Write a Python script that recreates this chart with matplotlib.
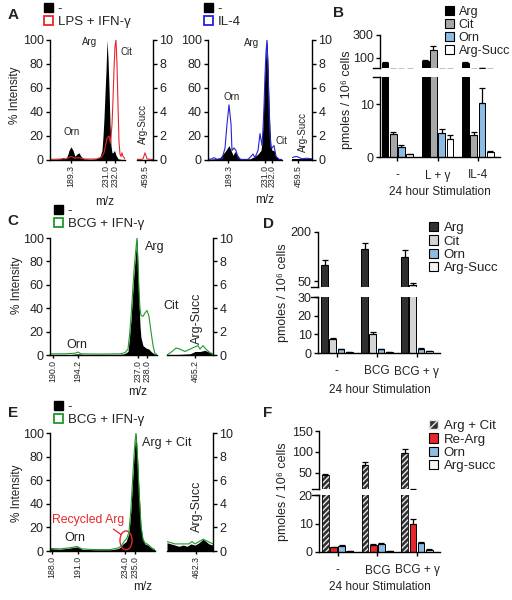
import matplotlib
matplotlib.use("Agg")
import matplotlib.pyplot as plt
from matplotlib.patches import Patch, Ellipse

# ---------------- data ----------------
# spectra: x is position along each broken m/z segment (0-100), y is % intensity
# panel A, LPS + IFN-g
a1_black_x = [0, 6.7, 13.3, 17.3, 21.3, 24, 25.3, 28, 30.7, 33.3, 36, 38.7, 41.3, 45.3, 53.3, 61.3, 66.7, 69.3, 70.7,
              72, 73.3, 74.7, 76, 77.3, 78.7, 80, 81.3, 82.7, 84, 86, 88, 90.7, 94.7, 100]
a1_black_y = [0.5, 0.5, 1, 2, 1, 5, 8, 11, 8, 3, 5, 6, 3, 1, 0.5, 1, 3, 8, 20, 35, 55, 75, 100, 85, 60, 30, 12, 6, 6,
              8, 4, 1, 0.5, 0.3]
a1_red_x = [0, 13.3, 21.3, 28, 33.3, 38.7, 45.3, 61.3, 68, 72, 76, 78.7, 80.7, 82.7, 84, 85.3, 86.7, 88, 89.3, 90.7,
            92, 93.3, 94.7, 96, 97.3, 100]
a1_red_y = [0.5, 0.8, 1, 3, 1.5, 2, 0.8, 0.8, 2, 6, 18, 20, 14, 30, 50, 75, 95, 100, 80, 45, 15, 5, 3, 6, 3, 1]
a1_side_x = [0, 25, 37.5, 50, 62.5, 81, 100]
a1_side_black = [0.02, 0.02, 0.02, 0.03, 0.02, 0.02, 0.02]
a1_side_red = [0.05, 0.05, 0.1, 0.6, 0.1, 0.05, 0.05]

# panel A, IL-4
a2_black_x = [0, 9.5, 16.2, 23, 28.4, 31.1, 33.8, 36.5, 39.2, 43.2, 56.8, 63.5, 67.6, 71.6, 73, 74.3, 75.7, 77, 78.4,
              79.7, 81.1, 82.4, 83.8, 85.1, 86.5, 89.2, 91.9, 95.9, 100]
a2_black_y = [0.5, 1, 2, 7, 12, 8, 4, 7, 5, 1, 1, 3, 5, 8, 15, 30, 55, 75, 90, 100, 80, 50, 25, 12, 8, 8, 3, 1, 0.5]
a2_blue_x = [0, 5.4, 8.1, 12.2, 18.9, 23, 25.7, 28.4, 31.1, 32.4, 35.1, 37.8, 40.5, 44.6, 54.1, 58.1, 60.8, 63.5, 67.6,
             70.3, 73, 74.3, 75.7, 77, 78.4, 79.7, 81.1, 82.4, 83.8, 85.1, 86.5, 89.2, 91.9, 95.9, 100]
a2_blue_y = [0.5, 1, 2, 0.5, 1, 10, 30, 46, 30, 8, 10, 8, 2, 0.5, 0.5, 3, 5, 2, 8, 22, 12, 25, 45, 70, 90, 100, 75,
             45, 20, 10, 10, 12, 3, 0.5, 0.5]
a2_side_x = [0, 20, 30, 50, 70, 100]
a2_side_black = [0.05, 0.05, 0.05, 0.05, 0.05, 0.05]
a2_side_blue = [0.2, 0.3, 0.25, 0.1, 0.15, 0.1]

# panel C, BCG + IFN-g
c_black_x = [0, 18.7, 26.2, 32.7, 63.6, 69.2, 72.9, 74.3, 75.7, 77.1, 78.5, 79.9, 81.3, 82.2, 83.2, 84.1, 85, 86.9,
             89.7, 92.5, 94.4, 97.2, 100]
c_black_y = [0.3, 0.3, 1, 0.3, 0.3, 1, 3, 15, 30, 50, 70, 85, 100, 75, 45, 25, 15, 8, 6, 5, 3, 1, 0.3]
c_green_x = [0, 14, 23.4, 26.2, 29, 46.7, 65.4, 70.1, 72.9, 74.3, 75.7, 77.1, 78.5, 79.9, 81.3, 82.2, 83.2, 84.1, 85,
             86.9, 88.8, 90.7, 92.5, 94.4, 96.3, 98.1, 100]
c_green_y = [1, 1, 1.5, 2.5, 1, 0.8, 1, 2, 5, 17, 32, 52, 72, 87, 100, 80, 55, 40, 34, 33, 36, 38, 33, 20, 8, 1, 0.5]
c_side_black_x = [0, 28, 50, 60.9, 71.7, 82.6, 93.5, 100]
c_side_black_y = [0, 0.05, 0.1, 0.3, 0.3, 0.4, 0.2, 0]
c_side_green_x = [0, 10.9, 19.6, 28.3, 39.1, 50, 60.9, 67.4, 71.7, 78.3, 84.8, 93.5, 100]
c_side_green_y = [0, 0.3, 0.6, 0.5, 0.3, 0.5, 0.7, 0.8, 0.5, 0.8, 0.5, 0.2, 0.1]

# panel E, BCG + IFN-g (labelled)
e_black_x = [0, 9.5, 19, 25.7, 30.5, 42.9, 57.1, 64.8, 66.7, 69.5, 72.4, 75.2, 77.1, 79, 80, 81, 81.9, 83.3, 84.8,
             86.7, 88.6, 90.5, 93.3, 97.1, 100]
e_black_y = [2, 1.5, 2.5, 3.5, 1.5, 1, 1, 2, 3, 6, 8, 15, 35, 65, 80, 92, 100, 80, 50, 20, 9, 6, 5, 2, 1]
e_green_x = [0, 9.5, 19, 25.7, 30.5, 42.9, 57.1, 64.8, 67.6, 70.5, 73.3, 75.2, 77.1, 79, 80, 81, 81.9, 83.3, 84.8,
             86.7, 88.6, 90.5, 93.3, 97.1, 100]
e_green_y = [2.2, 1.8, 2.7, 3.8, 1.8, 1.2, 1.2, 2.5, 4, 8, 11, 16, 36, 66, 81, 93, 100, 81, 51, 21, 10, 7, 5.5, 2.5,
             1.2]
e_side_black_x = [0, 8.7, 17.4, 26, 34.8, 43.5, 52, 60.9, 69.6, 78.3, 84.8, 91.3, 100]
e_side_black_y = [0.7, 0.6, 0.5, 0.4, 0.5, 0.4, 0.6, 0.5, 0.7, 1.0, 0.8, 0.6, 0.5]
e_side_green_x = [0, 17.4, 34.8, 47.8, 54.3, 60.9, 78.3, 100]
e_side_green_y = [0.8, 0.6, 0.6, 0.6, 0.8, 0.6, 1.0, 0.6]

# bar charts (pmoles / 10^6 cells)
b_groups = ["-", "L + \u03b3", "IL-4"]
b_labels = ["Arg", "Cit", "Orn", "Arg-Succ"]
b_arg = [60, 75, 60]
b_arg_err = [6, 6, 5]
b_cit = [4.4, 170, 4.2]
b_cit_err = [0.4, 30, 0.6]
b_orn = [1.9, 4.5, 10.2]
b_orn_err = [0.4, 0.7, 2.8]
b_succ = [0.5, 3.4, 0.9]
b_succ_err = [0.1, 0.8, 0.3]

d_groups = ["-", "BCG", "BCG + \u03b3"]
d_labels = ["Arg", "Cit", "Orn", "Arg-Succ"]
d_arg = [100, 148, 122]
d_arg_err = [14, 18, 22]
d_cit = [7.5, 10.2, 38]
d_cit_err = [0.8, 1.0, 6]
d_orn = [2.0, 2.0, 2.3]
d_orn_err = [0.3, 0.2, 0.4]
d_succ = [0.5, 0.5, 1.0]
d_succ_err = [0.1, 0.1, 0.2]

f_groups = ["-", "BCG", "BCG + \u03b3"]
f_labels = ["Arg + Cit", "Re-Arg", "Orn", "Arg-succ"]
f_argcit = [45, 69, 98]
f_argcit_err = [3, 6, 10]
f_rearg = [1.7, 2.5, 10.0]
f_rearg_err = [0.2, 0.3, 1.5]
f_orn = [2.0, 2.8, 3.3]
f_orn_err = [0.3, 0.3, 0.3]
f_succ = [0.3, 0.3, 0.8]
f_succ_err = [0.05, 0.05, 0.1]

# ---------------- figure ----------------
W, H = 512, 600
plt.rcParams['font.family'] = ['Liberation Sans', 'DejaVu Sans']
fig = plt.figure(figsize=(W / 100, H / 100), dpi=100)

RED = '#e8262a'
BLUE = '#2323d8'
GREEN = '#1f9a2a'
LBLUE = '#8cbbe3'
LW = 1.0
TXT = '#222222'


def add_ax(l, t, r, b):
    return fig.add_axes([l / W, 1 - b / H, (r - l) / W, (b - t) / H])


def ftext(x, y, s, **kw):
    kw.setdefault('color', TXT)
    fig.text(x / W, 1 - y / H, s, **kw)


def style(ax):
    for s in ax.spines.values():
        s.set_linewidth(LW)
    ax.tick_params(width=LW, length=3, labelsize=9, pad=1.5, labelcolor=TXT)


def spectrum(main_box, side_box, bx, by, cx, cy, sbx, sby, scx, scy, color, ticks, tlabels, sticks, stlabels):
    ax = add_ax(*main_box)
    ax.fill_between(bx, 0, by, color='black', lw=0)
    ax.plot(cx, cy, color=color, lw=0.8)
    ax.set_xlim(0, 100)
    ax.set_ylim(0, 100)
    ax.spines['top'].set_visible(False)
    ax.spines['right'].set_visible(False)
    style(ax)
    ax.set_yticks(range(0, 101, 20))
    ax.set_xticks(ticks)
    ax.set_xticklabels(tlabels, rotation=90, fontsize=6.3)
    ax.tick_params(axis='x', length=2)

    ax2 = add_ax(*side_box)
    ax2.fill_between(sbx, 0, sby, color='black', lw=0)
    ax2.plot(scx, scy, color=color, lw=0.8)
    ax2.set_xlim(0, 100)
    ax2.set_ylim(0, 10)
    ax2.spines['top'].set_visible(False)
    ax2.spines['left'].set_visible(False)
    style(ax2)
    ax2.yaxis.tick_right()
    ax2.set_yticks(range(0, 11, 2))
    ax2.set_xticks(sticks)
    ax2.set_xticklabels(stlabels, rotation=90, fontsize=6.3)
    ax2.tick_params(axis='x', length=2)
    return ax, ax2


def spec_legend(x, y, label, color):
    handles = [Patch(facecolor='black', edgecolor='black'),
               Patch(facecolor='white', edgecolor=color, linewidth=1.3)]
    fig.legend(handles, ['-', label], loc='upper left', bbox_to_anchor=(x / W, 1 - y / H), frameon=False,
               fontsize=9.5, handlelength=0.7, handleheight=0.7, handletextpad=0.35, labelspacing=0.05,
               borderpad=0, borderaxespad=0, labelcolor=TXT)


def bar_panel(top_box, bot_box, up_lim, up_ticks, lo_lim, lo_ticks, series, errs, colors, widths, groups,
              hatch_first=False, spine_left=0.0, right=2.55):
    axes = [add_ax(*top_box), add_ax(*bot_box)]
    offs = [-1.5, -0.5, 0.5, 1.5]
    step = 0.205
    for ax in axes:
        for k in range(4):
            xs = [g + offs[k] * step for g in range(3)]
            if k == 0 and hatch_first:
                ax.bar(xs, series[k], width=widths[k], color='#303030', edgecolor='#e6e6e6', hatch='//////',
                       linewidth=0)
                ax.bar(xs, series[k], width=widths[k], fill=False, edgecolor='black', linewidth=0.6)
            else:
                ax.bar(xs, series[k], width=widths[k], color=colors[k], edgecolor='black', linewidth=0.7)
            ax.errorbar(xs, series[k], yerr=[[0] * 3, errs[k]], fmt='none', ecolor='black', elinewidth=0.9,
                        capsize=2, capthick=0.9)
        ax.set_xlim(spine_left, right)
        ax.spines['top'].set_visible(False)
        ax.spines['right'].set_visible(False)
        style(ax)
    up, lo = axes
    up.set_ylim(*up_lim)
    up.set_yticks(up_ticks)
    up.spines['bottom'].set_visible(False)
    up.set_xticks([])
    lo.set_ylim(*lo_lim)
    lo.set_yticks(lo_ticks)
    lo.set_xticks(range(3))
    lo.set_xticklabels(groups, fontsize=8.5)
    lo.tick_params(axis='x', length=3, pad=6)
    # break marks on the y axis
    up.plot([-0.06, 0.0], [0, 0], transform=up.transAxes, color='black', lw=LW, clip_on=False)
    lo.plot([-0.06, 0.0], [1, 1], transform=lo.transAxes, color='black', lw=LW, clip_on=False)
    return up, lo


def bar_legend(x, y, labels, colors, hatch_first=False, size=9.5):
    handles = []
    for k, c in enumerate(colors):
        if k == 0 and hatch_first:
            handles.append(Patch(facecolor='#303030', edgecolor='#e6e6e6', hatch='////'))
        else:
            handles.append(Patch(facecolor=c, edgecolor='black', linewidth=0.8))
    fig.legend(handles, labels, loc='upper left', bbox_to_anchor=(x / W, 1 - y / H), frameon=False, fontsize=size,
               handlelength=0.7, handleheight=0.7, handletextpad=0.4, labelspacing=0.08, borderpad=0,
               borderaxespad=0, labelcolor=TXT)


# ---------- panel A ----------
ftext(13, 15, 'A', fontsize=11, fontweight='bold', va='center', ha='center')
spec_legend(44, 3, 'LPS + IFN-\u03b3', RED)
ax, ax2 = spectrum((50, 40, 125, 160), (137, 40, 153, 160), a1_black_x, a1_black_y, a1_red_x, a1_red_y,
                   a1_side_x, a1_side_black, a1_side_x, a1_side_red, RED,
                   [28, 74.7, 86.7], ['189.3', '231.0', '232.0'], [50], ['459.5'])
ftext(90, 42, 'Arg', fontsize=7, ha='center', va='center')
ftext(126, 52, 'Cit', fontsize=7, ha='center', va='center')
ftext(72, 132, 'Orn', fontsize=7, ha='center', va='center')
ftext(143, 124, 'Arg-Succ', fontsize=7, ha='center', va='center', rotation=90)
ftext(15, 95, '% Intensity', fontsize=8.5, ha='center', va='center', rotation=90)
ftext(105, 202, 'm/z', fontsize=8.5, ha='center', va='center')

spec_legend(204, 3, 'IL-4', BLUE)
ax, ax2 = spectrum((208, 40, 282, 160), (292, 40, 312, 160), a2_black_x, a2_black_y, a2_blue_x, a2_blue_y,
                   a2_side_x, a2_side_black, a2_side_x, a2_side_blue, BLUE,
                   [27.5, 76.5, 87], ['189.3', '231.0', '232.0'], [30], ['459.5'])
ftext(252, 43, 'Arg', fontsize=7, ha='center', va='center')
ftext(232, 97, 'Orn', fontsize=7, ha='center', va='center')
ftext(281, 141, 'Cit', fontsize=7, ha='center', va='center')
ftext(303, 132, 'Arg-Succ', fontsize=7, ha='center', va='center', rotation=90)
ftext(265, 200, 'm/z', fontsize=8.5, ha='center', va='center')

# ---------- panel B ----------
ftext(338, 13, 'B', fontsize=11, fontweight='bold', va='center', ha='center')
bar_panel((380, 35, 500, 68), (380, 77, 500, 157), (13, 300), [100, 300], (0, 15.1), [0, 10],
          [b_arg, b_cit, b_orn, b_succ], [b_arg_err, b_cit_err, b_orn_err, b_succ_err],
          ['black', '#a8a8a8', LBLUE, 'white'], [0.17, 0.17, 0.17, 0.17], b_groups,
          spine_left=-0.43, right=2.55)
bar_legend(445, 6, b_labels, ['black', '#a8a8a8', LBLUE, 'white'], size=9)
ftext(347, 100, 'pmoles / 10\u2076 cells', fontsize=9, ha='center', va='center', rotation=90)
ftext(440, 192, '24 hour Stimulation', fontsize=8.5, ha='center', va='center')

# ---------- panel C ----------
ftext(13, 221, 'C', fontsize=11, fontweight='bold', va='center', ha='center')
spec_legend(54, 205, 'BCG + IFN-\u03b3', GREEN)
ax, ax2 = spectrum((50, 238, 157, 355), (167, 238, 213, 355), c_black_x, c_black_y, c_green_x, c_green_y,
                   c_side_black_x, c_side_black_y, c_side_green_x, c_side_green_y, GREEN,
                   [2.8, 26.2, 82.2, 90.7], ['190.0', '194.2', '237.0', '238.0'], [60.9], ['465.2'])
ftext(155, 247, 'Arg', fontsize=9, ha='center', va='center')
ftext(171, 306, 'Cit', fontsize=9, ha='center', va='center')
ftext(77, 345, 'Orn', fontsize=9, ha='center', va='center')
ftext(197, 318, 'Arg-Succ', fontsize=9, ha='center', va='center', rotation=90)
ftext(17, 285, '% Intensity', fontsize=8.5, ha='center', va='center', rotation=90)
ftext(138, 392, 'm/z', fontsize=8.5, ha='center', va='center')

# ---------- panel D ----------
ftext(268, 224, 'D', fontsize=11, fontweight='bold', va='center', ha='center')
bar_panel((318, 232, 440, 287), (318, 297, 440, 353), (31.7, 200), [50, 200], (0, 30), [0, 10, 20, 30],
          [d_arg, d_cit, d_orn, d_succ], [d_arg_err, d_cit_err, d_orn_err, d_succ_err],
          ['#303030', '#d4d4d4', LBLUE, '#f4f4f4'], [0.17, 0.17, 0.17, 0.17], d_groups,
          spine_left=-0.47, right=2.58)
bar_legend(429, 222, d_labels, ['#303030', '#d4d4d4', LBLUE, '#f4f4f4'])
ftext(283, 293, 'pmoles / 10\u2076 cells', fontsize=9, ha='center', va='center', rotation=90)
ftext(380, 390, '24 hour Stimulation', fontsize=8.5, ha='center', va='center')

# ---------- panel E ----------
ftext(13, 413, 'E', fontsize=11, fontweight='bold', va='center', ha='center')
spec_legend(54, 401, 'BCG + IFN-\u03b3', GREEN)
ax, ax2 = spectrum((50, 433, 155, 551), (167, 433, 213, 551), e_black_x, e_black_y, e_green_x, e_green_y,
                   e_side_black_x, e_side_black_y, e_side_green_x, e_side_green_y, GREEN,
                   [1.9, 26.7, 71.4, 81], ['188.0', '191.0', '234.0', '235.0'], [63], ['462.3'])
ftext(167, 443, 'Arg + Cit', fontsize=9, ha='center', va='center')
ftext(75, 538, 'Orn', fontsize=9, ha='center', va='center')
ftext(197, 506, 'Arg-Succ', fontsize=9, ha='center', va='center', rotation=90)
ftext(88, 520, 'Recycled Arg', fontsize=8.8, ha='center', va='center', color=RED)
ax.add_patch(Ellipse((72.4, 9), 11.5, 16, fill=False, edgecolor=RED, lw=1.0, clip_on=False))
ax.plot([60.5, 67.5], [18.5, 14], color=RED, lw=0.9)
ftext(17, 493, '% Intensity', fontsize=8.5, ha='center', va='center', rotation=90)
ftext(143, 587, 'm/z', fontsize=8.5, ha='center', va='center')

# ---------- panel F ----------
ftext(268, 413, 'F', fontsize=11, fontweight='bold', va='center', ha='center')
bar_panel((319, 431, 440, 489), (319, 495, 440, 552), (11.9, 150), [50, 100, 150], (0, 20), [0, 10, 20],
          [f_argcit, f_rearg, f_orn, f_succ], [f_argcit_err, f_rearg_err, f_orn_err, f_succ_err],
          ['#303030', RED, LBLUE, '#f4f4f4'], [0.17, 0.17, 0.17, 0.17], f_groups, hatch_first=True,
          spine_left=-0.47, right=2.58)
bar_legend(429, 420, f_labels, ['#303030', RED, LBLUE, '#f4f4f4'], hatch_first=True)
ftext(283, 492, 'pmoles / 10\u2076 cells', fontsize=9, ha='center', va='center', rotation=90)
ftext(380, 587, '24 hour Stimulation', fontsize=8.5, ha='center', va='center')

fig.savefig('out.png', dpi=100)
